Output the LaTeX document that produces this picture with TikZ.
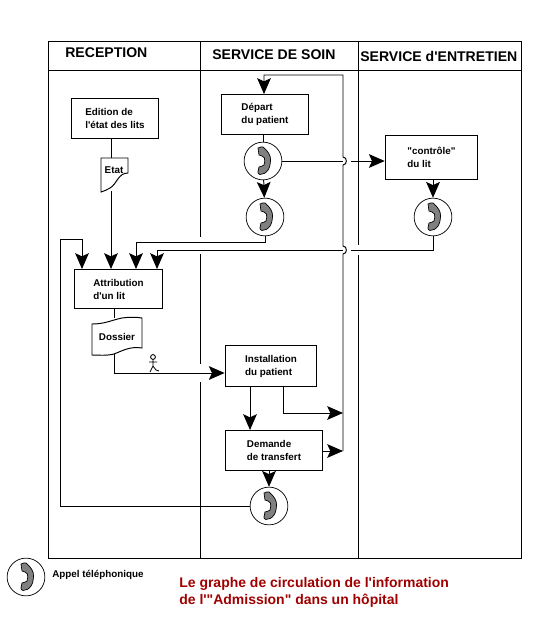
\documentclass[tikz,border=0pt]{standalone}
\usepackage{fontspec}
\setmainfont{Liberation Sans}[Ligatures=TeXOff]
\usetikzlibrary{arrows.meta, positioning}
\definecolor{titrered}{RGB}{160,0,0}
\definecolor{handset}{RGB}{128,128,128}
\tikzset{
  trait/.style={line width=0.55pt},
  fleche/.style={trait, -{Stealth[length=9pt, width=7.8pt, inset=1.8pt]}},
  boite/.style={draw, trait, rectangle, inner sep=0pt, align=left, font=\fontsize{5.6}{7.4}\selectfont\bfseries},
  entete/.style={font=\fontsize{8}{9.6}\selectfont\bfseries, inner sep=0pt, anchor=west},
  docnom/.style={font=\fontsize{5.6}{7.4}\selectfont\bfseries, inner sep=0pt},
  tel/.style={circle, draw, line width=0.4pt, fill=white, minimum size=21.5pt, inner sep=0pt, path picture={
    \begin{scope}[shift={(path picture bounding box.center)}]
      \fill[handset, draw=black, line width=0.4pt] (-5,-13) .. controls (-3,-14) and (-1,-14.5) .. (0,-14)
        .. controls (5,-10) and (8,-5) .. (7.5,-1) .. controls (7.5,3) and (6.5,7) .. (5,9)
        .. controls (3,12) and (0,13.5) .. (-3,13.5) .. controls (-4.5,13) and (-5.5,12) .. (-5,11)
        -- (-4,6) .. controls (-2,5.5) and (0,5) .. (1,4) .. controls (1.8,2) and (2,-1) .. (1.5,-3)
        .. controls (0,-5) and (-2,-5.5) .. (-4,-6) -- cycle;
    \end{scope}}},
}
\begin{document}
\begin{tikzpicture}[x=0.02cm, y=-0.02cm]
  \useasboundingbox (0,0) rectangle (550,630);
  % Frame
  \draw[trait] (48,41) rectangle (521,558);
  \draw[trait] (48,70) -- (521,70);
  \draw[trait] (200,41) -- (200,237) (200,254) -- (200,364) (200,382) -- (200,558);
  \draw[trait] (358,41) -- (358,245) (358,255) -- (358,558);
  \node[entete] (reception) at (65,53) {RECEPTION};
  \node[entete] (soin) at (212,55) {SERVICE DE SOIN};
  \node[entete] (entretien) at (360,56) {SERVICE d'ENTRETIEN};

  % Boxes
  \node[boite, minimum width=49pt, minimum height=23.2pt] (edition) at (115,118.5) {Edition de\\l'état des lits};
  \node[boite, minimum width=50pt, minimum height=23.2pt] (depart) at (265,114.5) {Départ\\du patient};
  \node[boite, minimum width=52.7pt, minimum height=25.5pt] (controle) at (431.5,157.5) {"contrôle"\hspace{8pt}\\du lit};
  \node[boite, minimum width=50.5pt, minimum height=22.7pt] (attribution) at (118.5,289) {Attribution\\d'un lit};
  \node[boite, minimum width=52.2pt, minimum height=23.8pt] (installation) at (271,366) {Installation\\du patient};
  \node[boite, minimum width=55.6pt, minimum height=23.2pt] (demande) at (274,450.5) {Demande\\de transfert};

  % Documents
  \node[docnom] (etat) at (114,170) {Etat};
  \draw[trait] (101,158) -- (128,158) -- (128,173) .. controls (118,173) and (117,184) .. (110,188) .. controls (107,190) and (104,191) .. (101,192) -- cycle;
  \node[docnom] (dossier) at (117,337) {Dossier};
  \draw[trait] (92,324) .. controls (105,324) and (112,320) .. (122,318) .. controls (130,317) and (136,317) .. (142,318) -- (142,348)
    .. controls (130,346) and (122,351) .. (114,354) .. controls (106,356) and (98,355) .. (92,355) -- cycle;

  % Phones
  \node[tel] (tel1) at (263,161) {};
  \node[tel] (tel2) at (265,217) {};
  \node[tel] (tel3) at (433,217) {};
  \node[tel] (tel4) at (269,506) {};
  \node[tel] (tel5) at (26,577) {};
  \node[docnom, anchor=west] (legende) at (52,575) {Appel téléphonique};

  % Anchor points
  \coordinate (attr1) at (82,269);
  \coordinate (attr2) at (111,269);
  \coordinate (attr3) at (136,269);
  \coordinate (attr4) at (157,269);
  \coordinate (ed1) at (111,139);
  \coordinate (et1) at (111,158);
  \coordinate (et2) at (111,191);
  \coordinate (at1) at (114,309);
  \coordinate (do1) at (114,318);
  \coordinate (do2) at (114,354);
  \coordinate (rail1) at (343,75);
  \coordinate (rail2) at (343,451);
  \coordinate (gap1) at (343,161);
  \coordinate (gap2) at (351,161);
  \coordinate (gap3) at (351,250);
  \coordinate (gap4) at (343,250);
  \coordinate (in1) at (250,387);
  \coordinate (de1) at (250,430);
  \coordinate (in2) at (283,387);
  \coordinate (ra1) at (343,413);
  \coordinate (de2) at (323,451);
  \coordinate (retour) at (60,239);

  % Connectors
  \draw[trait] (edition.south -| ed1) -- (et1);
  \draw[fleche] (et2) -- (attr2);
  \draw[trait] (depart.south -| tel1) -- (tel1);
  \draw[fleche] (tel1) -- (tel2);
  \draw[fleche] (controle.south -| tel3) -- (tel3);
  \draw[trait] (tel1) -- (gap1);
  \draw[fleche] (gap2) -- (controle.west |- gap2);
  \draw[fleche] (tel2.south) |- (attr3 |- 0,242) -- (attr3);
  \draw[trait] (tel3.south) |- (gap3);
  \draw[fleche] (gap4) -- (attr4 |- gap4) -- (attr4);
  \draw[fleche] (tel4.west) -| (retour) -| (attr1);
  \draw[trait] (at1) -- (do1);
  \draw[fleche] (do2) |- (installation.west |- 0,373);
  \draw[fleche] (in1) -- (de1);
  \draw[fleche] (in2) |- (ra1);
  \draw[fleche] (de2) -- (rail2);
  \draw[fleche] (demande.south -| tel4) -- (tel4);
  % Rail
  \draw[fleche] (rail2) -- (343,254) .. controls (347.5,254) and (347.5,246) .. (343,246)
    -- (343,165) .. controls (347.5,165) and (347.5,157) .. (343,157)
    -- (rail1) -| (264,94);

  % Walker
  \draw[line width=0.5pt] (153,357) circle (2.4);
  \draw[line width=0.5pt] (153,359.4) -- (153,366) -- (150,372) (153,366) -- (156,370) -- (159,371) (149,362) -- (157,362);

  % Title
  \node[anchor=west, inner sep=0pt, text=titrered, align=left, font=\fontsize{7.95}{9.6}\selectfont\bfseries] (titre) at (179,592.5)
    {Le graphe de circulation de l'information\\de l'"Admission" dans un hôpital};
\end{tikzpicture}
\end{document}
